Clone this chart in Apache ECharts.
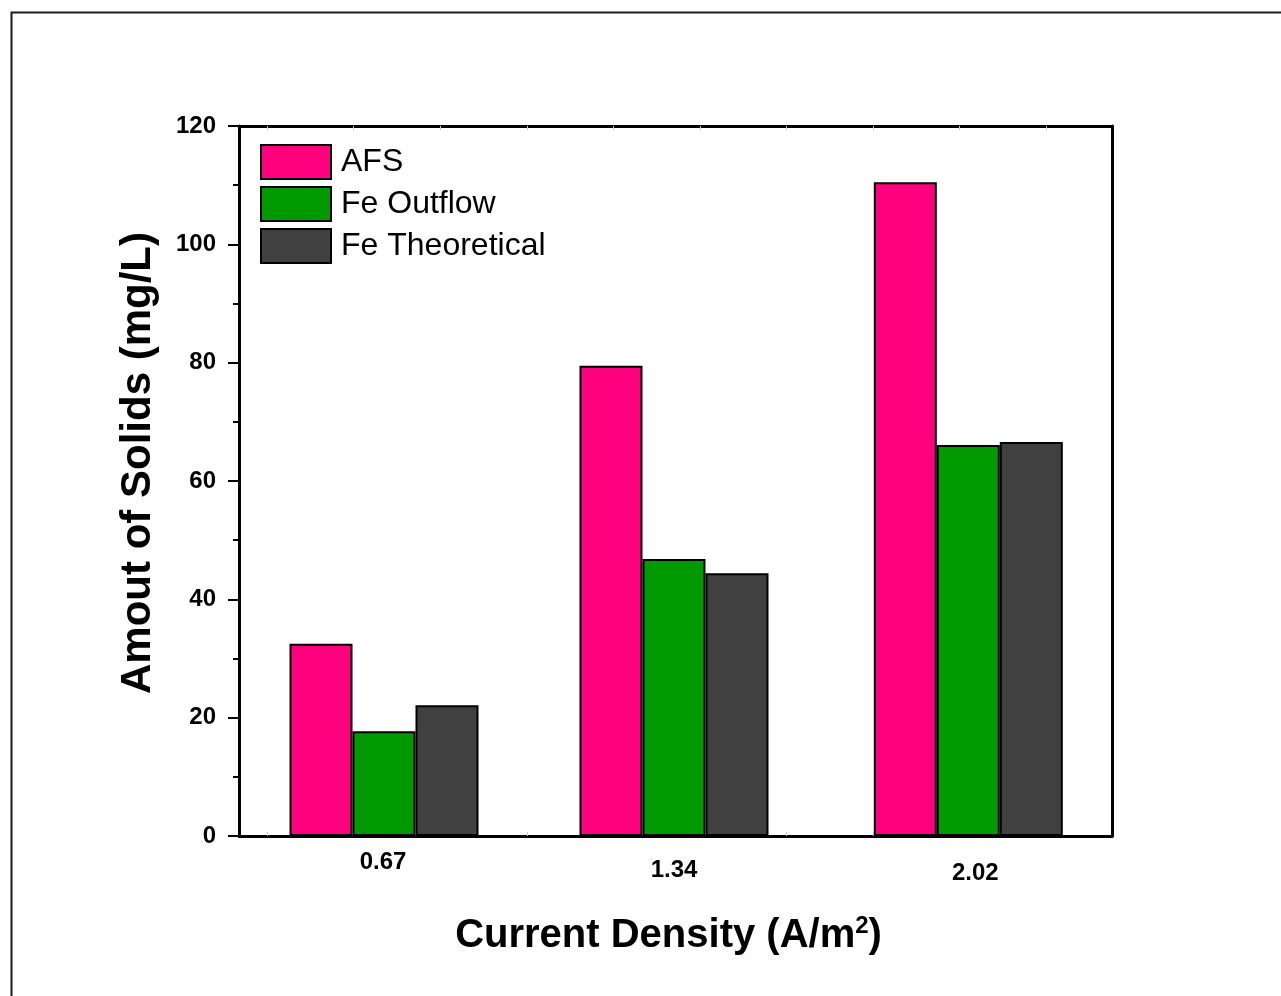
<!DOCTYPE html>
<html>
<head>
<meta charset="utf-8">
<script src="https://cdn.jsdelivr.net/npm/echarts@6/dist/echarts.min.js"></script>
<style>
html,body{margin:0;padding:0;background:#fff;}
#chart{width:1281px;height:996px;}
</style>
</head>
<body>
<div id="chart"></div>
<script>
// ---- data ----
const currentDensity = [0.67, 1.34, 2.02];
const afs = [32.5, 79.5, 110.5];
const feOutflow = [17.7, 46.8, 66.1];
const feTheoretical = [22.1, 44.4, 66.6];
const seriesNames = ['AFS', 'Fe Outflow', 'Fe Theoretical'];
const yTicks = [0, 20, 40, 60, 80, 100, 120];
const xMinorTicks = [0.4, 0.6, 0.8, 1.0, 1.2, 1.4, 1.6, 1.8, 2.0, 2.2];

const FONT = "'Liberation Sans', Arial, sans-serif";
const colors = ['#FF007F', '#009900', '#404040'];

function pairs(vals) { return currentDensity.map((x, i) => [x, vals[i]]); }

const labelStyleKey = v => {
  if (Math.abs(v - 0.67) < 1e-6) return 'a';
  if (Math.abs(v - 1.34) < 1e-6) return 'b';
  return 'c';
};

const chart = echarts.init(document.getElementById('chart'), null, {renderer: 'canvas'});
const baseX = {
  type: 'value',
  min: 0.335,
  max: 2.352,
  splitLine: {show: false},
  axisLine: {show: true, onZero: false, lineStyle: {color: '#000', width: 3}},
  axisTick: {show: true, inside: true, length: 4, customValues: xMinorTicks, lineStyle: {color: '#c8c8c8', width: 1}},
};
const option = {
  backgroundColor: '#fff',
  animation: false,
  textStyle: {fontFamily: FONT},
  grid: {left: 239, right: 169, top: 126, bottom: 160, containLabel: false},
  legend: {
    orient: 'vertical',
    left: 260,
    top: 144,
    padding: 0,
    itemWidth: 70,
    itemHeight: 34,
    itemGap: 6,
    icon: 'rect',
    data: seriesNames,
    itemStyle: {borderColor: '#000', borderWidth: 2},
    textStyle: {fontFamily: FONT, fontSize: 32, color: '#000', lineHeight: 34, padding: [0, 0, 0, 5]}
  },
  xAxis: [
    Object.assign({}, baseX, {
      position: 'bottom',
      name: '{t|Current Density (A/m}{s|2}{t|)}',
      nameLocation: 'middle',
      nameGap: 78,
      nameTextStyle: {
        padding: [0, 14, 0, 0],
        rich: {
          t: {fontFamily: FONT, fontSize: 40, fontWeight: 'bold', color: '#000'},
          s: {fontFamily: FONT, fontSize: 24, fontWeight: 'bold', color: '#000', verticalAlign: 'top', padding: [0, 0, 20, 0]}
        }
      },
      axisLabel: {
        show: true,
        customValues: currentDensity,
        margin: 14,
        formatter: v => '{' + labelStyleKey(v) + '|' + v.toFixed(2) + '}',
        rich: {
          a: {fontFamily: FONT, fontSize: 24, fontWeight: 'bold', color: '#000', padding: [0, 0, 0, -2]},
          b: {fontFamily: FONT, fontSize: 24, fontWeight: 'bold', color: '#000', padding: [8, 0, 0, 0]},
          c: {fontFamily: FONT, fontSize: 24, fontWeight: 'bold', color: '#000', padding: [11, 0, 0, 14]}
        }
      }
    }),
    Object.assign({}, baseX, {
      position: 'top',
      axisLabel: {show: false}
    })
  ],
  yAxis: [
    {
      type: 'value',
      position: 'left',
      min: 0,
      max: 120,
      interval: 20,
      name: 'Amout of Solids (mg/L)',
      nameLocation: 'middle',
      nameRotate: 90,
      nameGap: 80,
      nameTextStyle: {fontFamily: FONT, fontSize: 42, fontWeight: 'bold', color: '#000', padding: [0, 0, 0, 36]},
      splitLine: {show: false},
      axisLine: {show: true, lineStyle: {color: '#000', width: 3}},
      axisTick: {show: true, inside: false, length: 11, lineStyle: {color: '#000', width: 2}},
      minorTick: {show: true, splitNumber: 2, length: 6, lineStyle: {color: '#000', width: 2}},
      axisLabel: {
        margin: 23,
        fontFamily: FONT, fontSize: 24, fontWeight: 'bold', color: '#000',
        customValues: yTicks
      }
    },
    {
      type: 'value',
      position: 'right',
      min: 0,
      max: 120,
      interval: 20,
      splitLine: {show: false},
      axisLine: {show: true, lineStyle: {color: '#000', width: 3}},
      axisTick: {show: false},
      axisLabel: {show: false}
    }
  ],
  graphic: [
    {
      type: 'rect',
      left: 9,
      top: 10,
      shape: {width: 1320, height: 1020},
      style: {fill: 'none', stroke: '#1a1a1a', lineWidth: 2},
      silent: true,
      z: -1
    }
  ],
  series: [afs, feOutflow, feTheoretical].map((vals, i) => ({
    name: seriesNames[i],
    type: 'bar',
    xAxisIndex: 0,
    yAxisIndex: 0,
    data: pairs(vals),
    barWidth: 63,
    barGap: '0%',
    itemStyle: {color: colors[i], borderColor: '#000', borderWidth: 2}
  }))
};
chart.setOption(option);
</script>
</body>
</html>
